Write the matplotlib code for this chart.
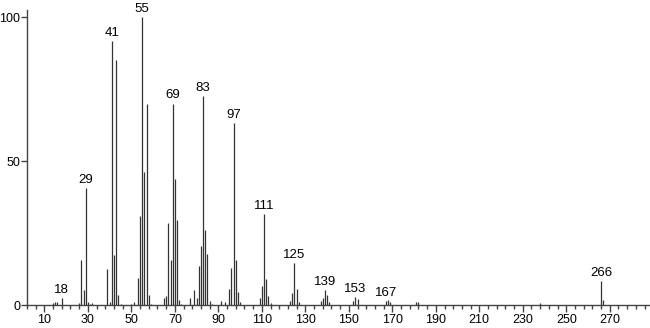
import matplotlib
matplotlib.use('Agg')
import matplotlib.pyplot as plt

# m/z values and relative intensities
mz = [14, 15, 16, 18, 26, 27, 28, 29, 30, 31, 32,
      39, 40, 41, 42, 43, 44, 45, 50, 51,
      53, 54, 55, 56, 57, 58, 59,
      65, 66, 67, 68, 69, 70, 71, 72, 73,
      77, 79, 80, 81, 82, 83, 84, 85, 86, 87,
      91, 93, 95, 96, 97, 98, 99, 100,
      109, 110, 111, 112, 113, 114,
      123, 124, 125, 126, 127,
      137, 138, 139, 140, 141,
      152, 153, 154, 167, 168, 169,
      181, 182, 238, 266, 267]
intensity = [0.8, 1.2, 1.0, 2.5, 0.6, 15.6, 5.3, 40.6, 1.0, 0.5, 0.8,
             12.5, 1.2, 91.8, 17.4, 85.2, 3.5, 0.5, 0.5, 1.0,
             9.5, 30.9, 100.0, 46.3, 70.0, 3.5, 0.5,
             2.5, 3.2, 28.4, 15.7, 70.0, 43.7, 29.7, 1.7, 0.5,
             2.3, 5.3, 2.3, 13.7, 20.6, 72.5, 26.0, 17.6, 1.5, 0.5,
             1.5, 1.0, 5.5, 12.7, 63.2, 15.6, 4.6, 1.0,
             2.3, 6.7, 31.6, 9.0, 3.0, 0.6,
             1.5, 4.2, 14.5, 5.6, 1.0,
             1.3, 2.3, 5.3, 3.6, 1.0,
             1.5, 2.9, 2.0, 1.5, 1.7, 1.0,
             1.0, 1.0, 0.8, 8.4, 1.7]
labeled = [18, 29, 41, 55, 69, 83, 97, 111, 125, 139, 153, 167, 266]

plt.rcParams['font.family'] = ['Liberation Sans', 'DejaVu Sans']

fig = plt.figure(figsize=(6.5, 3.28), dpi=100)
ax = fig.add_axes([27 / 650, 23 / 328, 623 / 650, 295 / 328])

ax.vlines(mz, 0, intensity, color='#333333', linewidth=0.9)

for m in labeled:
    h = intensity[mz.index(m)]
    ax.annotate(str(m), (m, h), xytext=(0, 1.5), textcoords='offset points',
                ha='center', va='bottom', fontsize=9.5, color='black')

ax.set_xlim(2.75, 288.5)
ax.set_ylim(0, 102.5)
ax.set_xticks(range(10, 271, 20))
ax.set_xticks(range(2, 287, 4), minor=True)
ax.set_yticks([0, 50, 100])

for s in ['top', 'right']:
    ax.spines[s].set_visible(False)
for s in ['left', 'bottom']:
    ax.spines[s].set_color('#444444')
    ax.spines[s].set_linewidth(1.0)

ax.tick_params(axis='x', which='major', length=5, width=1, color='#444444',
               labelsize=9, pad=1.5)
ax.tick_params(axis='x', which='minor', length=3, width=1, color='#444444')
ax.tick_params(axis='y', which='major', length=4, width=1, color='#444444',
               labelsize=9, pad=1)

fig.savefig('out.png', dpi=100)
